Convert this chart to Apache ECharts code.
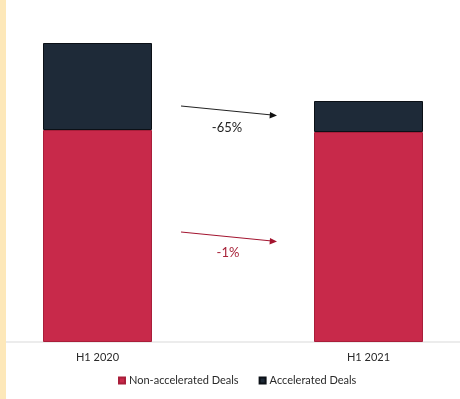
<!DOCTYPE html>
<html>
<head>
<meta charset="utf-8">
<script src="https://cdn.jsdelivr.net/npm/echarts@6/dist/echarts.min.js"></script>
<style>
html, body { margin: 0; padding: 0; background: #fff; }
#main { width: 460px; height: 399px; }
</style>
</head>
<body>
<div id="main"></div>
<script>
// 数据
var categories = ['H1 2020', 'H1 2021'];
var nonAccelerated = [212, 210];
var accelerated = [87, 31];
var changeLabels = ['-65%', '-1%'];

var myChart = echarts.init(document.getElementById('main'));

var option = {
	animation: false,
	backgroundColor: '#fff',
	grid: { left: -38, right: -44, top: 42, bottom: 57, outerBoundsMode: 'none', containLabel: false },
	legend: {
		bottom: 8,
		left: 113,
		itemWidth: 6,
		itemHeight: 6,
		itemGap: 20,
		icon: 'rect',
		textStyle: { fontFamily: 'Lato', fontSize: 11, color: '#2a2a2a', padding: [0, 0, 0, -1] },
		data: ['Non-accelerated Deals', 'Accelerated Deals']
	},
	xAxis: {
		type: 'category',
		data: categories,
		axisLine: { lineStyle: { color: '#ececec', width: 2 } },
		axisTick: { show: false },
		axisLabel: { fontFamily: 'Lato', fontSize: 11, color: '#2a2a2a', margin: 10 }
	},
	yAxis: {
		type: 'value',
		min: 0,
		max: 300,
		show: false,
		splitLine: { show: false }
	},
	series: [{
		name: 'Non-accelerated Deals',
		type: 'bar',
		stack: 'deals',
		barWidth: 109,
		data: nonAccelerated,
		itemStyle: { color: '#c8294a', borderColor: '#a91e3a', borderWidth: 1 }
	}, {
		name: 'Accelerated Deals',
		type: 'bar',
		stack: 'deals',
		barWidth: 109,
		data: accelerated,
		itemStyle: { color: '#1e2a38', borderColor: '#0b1016', borderWidth: 1 }
	}],
	graphic: [
		// 左侧黄色边条
		{ type: 'rect', left: 0, top: 0, shape: { x: 0, y: 0, width: 6, height: 399 }, style: { fill: '#fde8b9' }, z: 100 },
		// 箭头
		{ type: 'line', shape: { x1: 181, y1: 106, x2: 272, y2: 115 }, style: { stroke: '#222', lineWidth: 1 } },
		{ type: 'polygon', shape: { points: [[277, 115.5], [270, 112], [269.5, 118.5]] }, style: { fill: '#111' } },
		{ type: 'text', x: 227, y: 128, style: { text: changeLabels[0], fontFamily: 'Lato', fontSize: 13, fill: '#222', align: 'center', verticalAlign: 'middle' } },
		{ type: 'line', shape: { x1: 181, y1: 232, x2: 272, y2: 241 }, style: { stroke: '#a3142f', lineWidth: 1 } },
		{ type: 'polygon', shape: { points: [[277, 241.5], [270, 238], [269.5, 244.5]] }, style: { fill: '#a3142f' } },
		{ type: 'text', x: 228, y: 253, style: { text: changeLabels[1], fontFamily: 'Lato', fontSize: 13, fill: '#a8243a', align: 'center', verticalAlign: 'middle' } }
	]
};
myChart.setOption(option);
</script>
</body>
</html>
